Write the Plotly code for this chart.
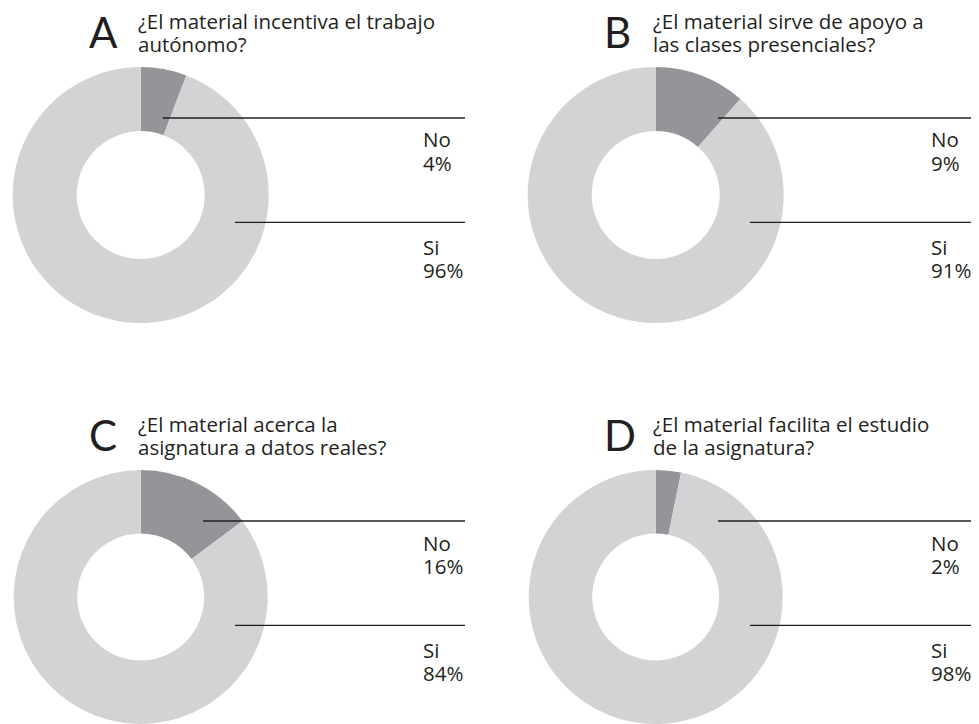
import plotly.graph_objects as go

# ---- data ----
panel_letters = ["A", "B", "C", "D"]
questions = [
    ["¿El material incentiva el trabajo", "autónomo?"],
    ["¿El material sirve de apoyo a", "las clases presenciales?"],
    ["¿El material acerca la", "asignatura a datos reales?"],
    ["¿El material facilita el estudio", "de la asignatura?"],
]
categories = ["No", "Si"]
# slice sizes as drawn in the picture (share of "No"), and printed labels
slice_no = [5.8, 11.5, 14.8, 3.2]
label_no = [4, 9, 16, 2]
label_si = [96, 91, 84, 98]

# ---- style ----
PAGE_W, PAGE_H = 979, 724
OFF = 8                      # browser body margin
W, H = PAGE_W - OFF, PAGE_H - OFF
DARK = "#939598"
LIGHT = "#D1D3D4"
INK = "#231F20"
FONT = "Open Sans"
LETTER_FONT = "Lato"
TXT = 20.5

# panel geometry (page pixels from top-left)
col_x = [0, 515]
row_y = [0, 403]
label_x = [421, 414]               # value label left edge, relative to column
no_line_start = [162.7, 203, 203, 203]
si_line_start = 235
pie_cx = 140.7
pie_cy = 195
pie_r = 128

def px(x):
    return (x - OFF) / W

def py(y):
    return 1 - (y - OFF) / H

fig = go.Figure()
shapes = []
annotations = []

for i in range(4):
    r, c = divmod(i, 2)
    ox, oy = col_x[c], row_y[r]
    cx, cy = pie_cx + ox, pie_cy + oy
    y0 = max(0.0, py(cy + pie_r))
    y1 = min(1.0, py(cy - pie_r))
    fig.add_trace(go.Pie(
        labels=categories,
        values=[slice_no[i], 100 - slice_no[i]],
        marker=dict(colors=[DARK, LIGHT], line=dict(width=0)),
        hole=0.5,
        sort=False,
        direction="clockwise",
        rotation=0,
        textinfo="none",
        hoverinfo="label+percent",
        showlegend=False,
        domain=dict(x=[px(cx - pie_r), px(cx + pie_r)], y=[y0, y1]),
    ))

    # leader lines
    right_end = min(PAGE_W, 465 + ox)
    shapes.append(dict(type="line", xref="paper", yref="paper",
                       x0=px(no_line_start[i] + ox), x1=px(right_end),
                       y0=py(118 + oy), y1=py(118 + oy),
                       line=dict(color=INK, width=1.3)))
    shapes.append(dict(type="line", xref="paper", yref="paper",
                       x0=px(si_line_start + ox), x1=px(right_end),
                       y0=py(222.3 + oy), y1=py(222.3 + oy),
                       line=dict(color=INK, width=1.3)))

    # big letter
    annotations.append(dict(text=panel_letters[i], xref="paper", yref="paper",
                            x=px(87 + ox), y=py(32 + oy), xanchor="left", yanchor="middle",
                            showarrow=False, font=dict(family=LETTER_FONT, size=42, color=INK)))
    # question lines
    for k, line in enumerate(questions[i]):
        annotations.append(dict(text=line, xref="paper", yref="paper",
                                x=px(136 + ox), y=py(21.5 + 22.4 * k + oy), xanchor="left", yanchor="middle",
                                showarrow=False, font=dict(family=FONT, size=TXT, color=INK)))
    # value labels
    lx = label_x[c] + ox
    lab_lines = [
        (categories[0], 139.5), (f"{label_no[i]}%", 162.5),
        (categories[1], 247), (f"{label_si[i]}%", 270),
    ]
    for txt, yy in lab_lines:
        annotations.append(dict(text=txt, xref="paper", yref="paper",
                                x=px(lx), y=py(yy + oy), xanchor="left", yanchor="middle",
                                showarrow=False, font=dict(family=FONT, size=TXT, color=INK)))

fig.update_layout(
    width=W, height=H,
    margin=dict(l=0, r=0, t=0, b=0),
    paper_bgcolor="white", plot_bgcolor="white",
    shapes=shapes, annotations=annotations,
)

fig.write_html("out.html")
